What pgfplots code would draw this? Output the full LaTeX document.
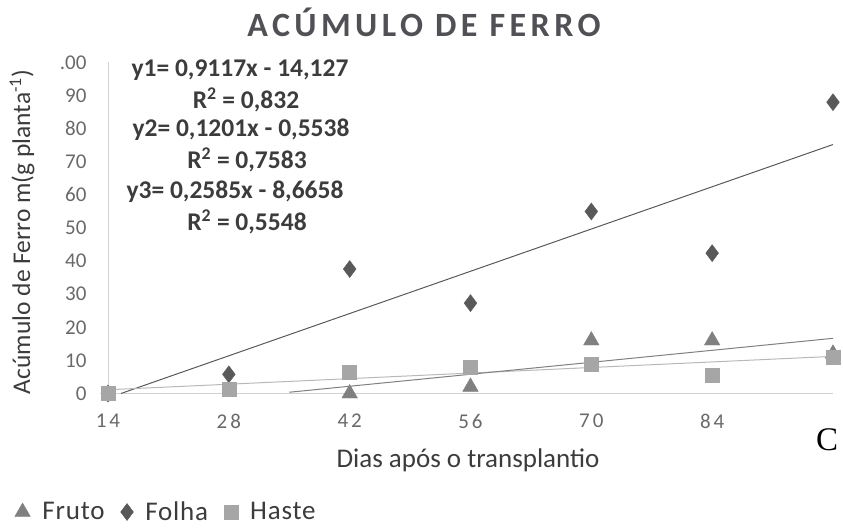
\documentclass[border=0pt]{standalone}
\usepackage{pgfplots}
\pgfplotsset{compat=1.18}
\usepackage{fontspec}
\setmainfont{Carlito}
\newfontfamily\serifC{Liberation Serif}
\definecolor{cFolha}{RGB}{89,89,89}
\definecolor{cFruto}{RGB}{128,128,128}
\definecolor{cHaste}{RGB}{166,166,166}
\definecolor{cTitle}{RGB}{80,80,85}
\definecolor{cText}{RGB}{60,60,60}
\definecolor{cTick}{RGB}{105,105,105}
\definecolor{cAxis}{RGB}{210,210,210}
\begin{document}
\begin{tikzpicture}[x=1pt,y=1pt]
\useasboundingbox (0,0) rectangle (843,528);
\begin{axis}[
  at={(108pt,134.5pt)}, anchor=south west,
  width=725pt, height=331pt, scale only axis,
  xmin=14, xmax=98, ymin=0, ymax=100,
  clip=false,
  axis lines=left,
  axis line style={-},
  x axis line style={cAxis, line width=1pt, shorten <=-8pt},
  y axis line style={cAxis, line width=0.8pt},
  major tick length=0pt,
  xtick={14,28,42,56,70,84},
  xticklabels={14,28,42,56,70,84},
  ytick={0,10,20,30,40,50,60,70,80,90,100},
  yticklabels={0,10,20,30,40,50,60,70,80,90,.00},
  xticklabel style={font=\fontsize{21}{24}\selectfont\addfontfeatures{LetterSpace=14}, text=cTick, anchor=north, yshift=-17pt},
  yticklabel style={font=\fontsize{21}{24}\selectfont, text=cTick, anchor=east, xshift=-18pt},
  legend columns=3,
  legend style={draw=none, fill=none, at={(-0.133,-0.358)}, anchor=west,
    font=\fontsize{27}{31}\selectfont\addfontfeatures{LetterSpace=3}, text=cText,
    /tikz/every odd column/.append style={column sep=10pt},
    /tikz/every even column/.append style={column sep=14pt}},
  legend cell align=left,
]
% trend lines
\addplot[forget plot, cFolha, line width=1pt] coordinates {(15.5,0) (98,75.22)};
\addplot[forget plot, cHaste!80, line width=1pt] coordinates {(14,1.13) (98,11.22)};
\addplot[forget plot, cFruto, line width=1pt] coordinates {(35,0.38) (98,16.67)};
% data
\addplot[only marks, mark=triangle*, mark size=9pt, mark options={fill=cFruto, draw=cFruto}]
  coordinates {(42,0) (56,2) (70,16) (84,16) (98,12)};
\addlegendentry{Fruto}
\addplot[only marks, mark=diamond*, mark size=8.5pt, mark options={fill=cFolha, draw=cFolha}]
  coordinates {(14,0) (28,5.8) (42,37.6) (56,27.3) (70,55) (84,42.4) (98,88)};
\addlegendentry{Folha}
\addplot[only marks, mark=square*, mark size=7pt, mark options={fill=cHaste, draw=cHaste}]
  coordinates {(14,0) (28,1.2) (42,6.3) (56,8) (70,8.8) (84,5.5) (98,11)};
\addlegendentry{Haste}
\end{axis}
% title
\node[text=cTitle, font=\fontsize{34}{38}\selectfont\bfseries\addfontfeatures{LetterSpace=13}] at (424,506) {ACÚMULO DE FERRO};
% equations
\begin{scope}[every node/.style={text=cText, font=\fontsize{25.5}{30}\selectfont\bfseries}]
\node at (240,458) {y1= 0,9117x - 14,127};
\node at (246,428) {R\textsuperscript{2} = 0,832};
\node at (241,398) {y2= 0,1201x - 0,5538};
\node at (247,368) {R\textsuperscript{2} = 0,7583};
\node at (235,336) {y3= 0,2585x - 8,6658};
\node at (247,306) {R\textsuperscript{2} = 0,5548};
\end{scope}
% axis labels
\node[rotate=90, text=cText, font=\fontsize{25.5}{30}\selectfont] at (22,296) {Acúmulo de Ferro m(g planta\textsuperscript{-1})};
\node[text=cText, font=\fontsize{27}{32}\selectfont] at (468,68) {Dias após o transplantio};
\node[font=\fontsize{33}{38}\selectfont\serifC] at (827,88) {C};
\end{tikzpicture}
\end{document}
